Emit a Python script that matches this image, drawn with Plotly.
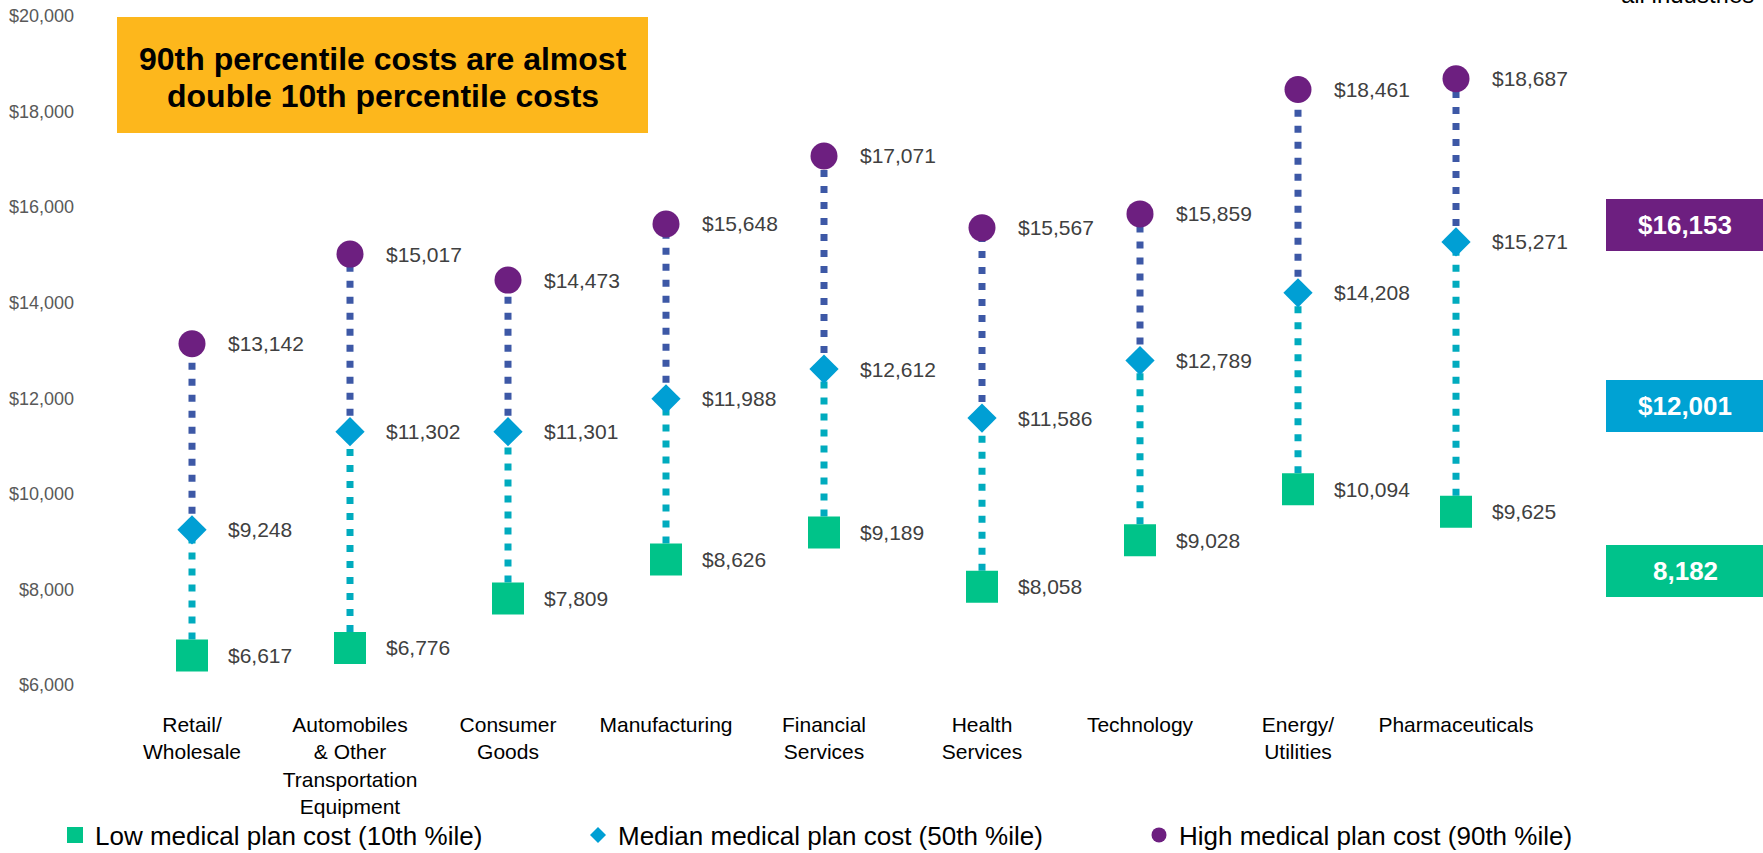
import plotly.graph_objects as go

# ---------------- data ----------------
categories = [
    "Retail/<br>Wholesale",
    "Automobiles<br>& Other<br>Transportation<br>Equipment",
    "Consumer<br>Goods",
    "Manufacturing",
    "Financial<br>Services",
    "Health<br>Services",
    "Technology",
    "Energy/<br>Utilities",
    "Pharmaceuticals",
]
low_cost = [6617, 6776, 7809, 8626, 9189, 8058, 9028, 10094, 9625]
median_cost = [9248, 11302, 11301, 11988, 12612, 11586, 12789, 14208, 15271]
high_cost = [13142, 15017, 14473, 15648, 17071, 15567, 15859, 18461, 18687]

series_names = [
    "Low medical plan cost (10th %ile)",
    "Median medical plan cost (50th %ile)",
    "High medical plan cost (90th %ile)",
]
all_industry_labels = ["$16,153", "$12,001", "8,182"]
y_ticks = [6000, 8000, 10000, 12000, 14000, 16000, 18000, 20000]
y_tick_text = [f"${v:,}" for v in y_ticks]
callout_lines = ["90th percentile costs are almost", "double 10th percentile costs"]
side_title = "Average across<br>all industries"

# ---------------- style ----------------
FONT = "Liberation Sans, Arial, sans-serif"
GREEN = "#00C389"
BLUE = "#009FD4"
PURPLE = "#6D1F80"
LOWER_LINE = "#00ABBE"
UPPER_LINE = "#3D58A6"
ORANGE = "#FDB71C"

W, H = 1763, 853
ML, MR, MT, MB = 113, 228, 16, 168
PW = W - ML - MR
PH = H - MT - MB


def px_x(p):
    return (p - ML) / PW


def px_y(p):
    return (H - MB - p) / PH


fig = go.Figure()

# connectors (behind markers)
xs_lo, ys_lo, xs_hi, ys_hi = [], [], [], []
for c, lo, md, hi in zip(categories, low_cost, median_cost, high_cost):
    xs_lo += [c, c, None]
    ys_lo += [lo, md, None]
    xs_hi += [c, c, None]
    ys_hi += [md, hi, None]

fig.add_trace(go.Scatter(x=xs_lo, y=ys_lo, mode="lines",
                         line=dict(color=LOWER_LINE, width=7, dash="7px,9px"),
                         showlegend=False, hoverinfo="skip"))
fig.add_trace(go.Scatter(x=xs_hi, y=ys_hi, mode="lines",
                         line=dict(color=UPPER_LINE, width=7, dash="7px,9px"),
                         showlegend=False, hoverinfo="skip"))

# markers
fig.add_trace(go.Scatter(x=categories, y=low_cost, mode="markers", name=series_names[0],
                         marker=dict(symbol="square", size=32, color=GREEN),
                         showlegend=False))
fig.add_trace(go.Scatter(x=categories, y=median_cost, mode="markers", name=series_names[1],
                         marker=dict(symbol="diamond", size=22.5, color=BLUE),
                         showlegend=False))
fig.add_trace(go.Scatter(x=categories, y=high_cost, mode="markers", name=series_names[2],
                         marker=dict(symbol="circle", size=27, color=PURPLE),
                         showlegend=False))

# legend entries (separate legends so each can be placed freely)
legend_specs = [
    (series_names[0], "square", 16, GREEN, "legend"),
    (series_names[1], "diamond", 12.3, BLUE, "legend2"),
    (series_names[2], "circle", 15, PURPLE, "legend3"),
]
for name, sym, sz, col, lg in legend_specs:
    fig.add_trace(go.Scatter(x=[None], y=[None], mode="markers", name=name,
                             marker=dict(symbol=sym, size=sz, color=col),
                             legend=lg, showlegend=True))

legend_common = dict(font=dict(family=FONT, size=26, color="#000000"),
                     bgcolor="rgba(0,0,0,0)", xanchor="left", yanchor="middle",
                     itemsizing="trace")
LEG_Y = 835
fig.update_layout(
    legend=dict(x=px_x(55), y=px_y(LEG_Y), **legend_common),
    legend2=dict(x=px_x(578), y=px_y(LEG_Y), **legend_common),
    legend3=dict(x=px_x(1139), y=px_y(LEG_Y), **legend_common),
)

# value labels
annotations = []
for vals in (low_cost, median_cost, high_cost):
    for c, v in zip(categories, vals):
        annotations.append(dict(x=c, y=v, xref="x", yref="y", text=f"${v:,}",
                                showarrow=False, xanchor="left", yanchor="middle",
                                xshift=34, font=dict(family=FONT, size=21, color="#404040")))

# callout box
shapes = [dict(type="rect", xref="paper", yref="paper",
               x0=px_x(117), x1=px_x(648), y0=px_y(133), y1=px_y(17),
               fillcolor=ORANGE, line=dict(width=0), layer="below")]
for line_txt, cy in zip(callout_lines, [59, 96]):
    annotations.append(dict(x=px_x(382.5), y=px_y(cy), xref="paper", yref="paper",
                            text=f"<b>{line_txt}</b>", showarrow=False,
                            xanchor="center", yanchor="middle", align="center",
                            font=dict(family=FONT, size=32, color="#000000")))

# all-industries boxes
box_colors = [PURPLE, "#00A2D3", "#00C28B"]
box_tops = [199, 380, 545]
for lab, col, top in zip(all_industry_labels, box_colors, box_tops):
    shapes.append(dict(type="rect", xref="paper", yref="paper",
                       x0=px_x(1606), x1=px_x(1775), y0=px_y(top + 52), y1=px_y(top),
                       fillcolor=col, line=dict(width=0)))
    annotations.append(dict(x=px_x(1685), y=px_y(top + 26), xref="paper", yref="paper",
                            text=f"<b>{lab}</b>", showarrow=False,
                            xanchor="center", yanchor="middle",
                            font=dict(family=FONT, size=26, color="#FFFFFF")))

annotations.append(dict(x=px_x(1756), y=px_y(10), xref="paper", yref="paper",
                        text=side_title, showarrow=False, xanchor="right", yanchor="bottom",
                        align="right", font=dict(family=FONT, size=24, color="#000000")))

fig.update_layout(
    width=W, height=H,
    margin=dict(l=ML, r=MR, t=MT, b=MB, autoexpand=False),
    paper_bgcolor="#FFFFFF", plot_bgcolor="#FFFFFF",
    font=dict(family=FONT),
    annotations=annotations,
    shapes=shapes,
    xaxis=dict(type="category", categoryorder="array", categoryarray=categories,
               range=[-0.5, len(categories) - 0.5],
               showgrid=False, zeroline=False, showline=False, ticks="",
               tickfont=dict(family=FONT, size=21, color="#000000"),
               ticklabelstandoff=25, fixedrange=True),
    yaxis=dict(range=[6000, 20000], tickmode="array", tickvals=y_ticks, ticktext=y_tick_text,
               showgrid=False, zeroline=False, showline=False, ticks="",
               tickfont=dict(family=FONT, size=18, color="#595959"),
               ticklabelstandoff=38, fixedrange=True),
    hovermode=False,
)

fig.write_html(
    "out.html",
    config={"displayModeBar": False},
    post_script="document.body.style.margin='0';document.body.style.overflow='hidden';",
)
